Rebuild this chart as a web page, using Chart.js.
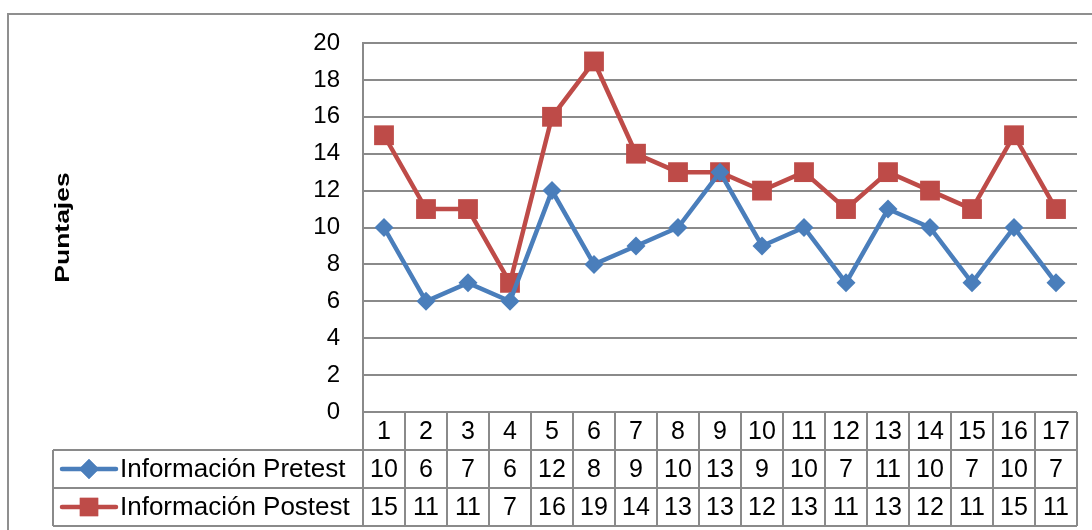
<!DOCTYPE html>
<html>
<head>
<meta charset="utf-8">
<script src="https://cdn.jsdelivr.net/npm/chart.js@4"></script>
<style>
body{margin:0;background:#fff;}
#wrap{width:1092px;height:530px;}
</style>
</head>
<body>
<div id="wrap"><canvas id="chart" width="1092" height="530"></canvas></div>
<script>
const categories=["1","2","3","4","5","6","7","8","9","10","11","12","13","14","15","16","17"];
const pretest=[10,6,7,6,12,8,9,10,13,9,10,7,11,10,7,10,7];
const postest=[15,11,11,7,16,19,14,13,13,12,13,11,13,12,11,15,11];
const seriesNames=["Información Pretest","Información Postest"];
const yTicks=[0,2,4,6,8,10,12,14,16,18,20];
const yTitle="Puntajes";

const BLUE='#4A7EBB',RED='#BE4B48',GRID='#8a8a8a';
const FONT='"Liberation Sans", Arial, sans-serif';

// data table drawn under the plot, columns follow the x scale
const tablePlugin={
    id:'dataTable',
    beforeDraw(chart){
        const ctx=chart.ctx;
        ctx.save();
        ctx.strokeStyle='#8f8f8f';ctx.lineWidth=2;
        ctx.strokeRect(8,14,1100,540);
        ctx.restore();
    },
    afterDraw(chart){
        const ctx=chart.ctx,x=chart.scales.x,area=chart.chartArea;
        const colW=x.getPixelForValue(1)-x.getPixelForValue(0);
        const rowH=38;
        const top=area.bottom,legLeft=53;
        const rows=[top,top+rowH,top+2*rowH,top+3*rowH];
        ctx.save();
        ctx.strokeStyle=GRID;ctx.lineWidth=2;
        ctx.beginPath();
        ctx.moveTo(area.left,rows[0]);ctx.lineTo(area.right,rows[0]);
        for(let r=1;r<4;r++){ctx.moveTo(legLeft,rows[r]);ctx.lineTo(area.right,rows[r]);}
        for(let i=0;i<=categories.length;i++){
            const px=x.getPixelForValue(0)-colW/2+i*colW;
            ctx.moveTo(px,rows[0]);ctx.lineTo(px,rows[3]);
        }
        ctx.moveTo(legLeft,rows[1]);ctx.lineTo(legLeft,rows[3]);
        ctx.stroke();

        ctx.fillStyle='#000';ctx.font='25px '+FONT;
        ctx.textAlign='center';ctx.textBaseline='middle';
        [categories,pretest,postest].forEach((list,r)=>{
            list.forEach((v,i)=>{
                ctx.fillText(String(v),x.getPixelForValue(i),rows[r]+rowH/2+1);
            });
        });
        // legend keys
        const styles=[{c:BLUE,s:'rectRot',r:10},{c:RED,s:'rect',r:13}];
        styles.forEach((st,k)=>{
            const cy=rows[k+1]+rowH/2;
            ctx.strokeStyle=st.c;ctx.lineWidth=4.5;ctx.lineCap='round';
            ctx.beginPath();ctx.moveTo(62,cy);ctx.lineTo(116,cy);ctx.stroke();
            ctx.fillStyle=st.c;
            Chart.helpers.drawPoint(ctx,{pointStyle:st.s,radius:st.r,rotation:0,borderWidth:0},89,cy);
            ctx.fill();
            ctx.fillStyle='#000';ctx.textAlign='left';
            ctx.font='26px '+FONT;
            ctx.fillText(seriesNames[k],120,cy+1);
        });
        // y axis title, stretched along its length like the original
        ctx.font='bold 21px '+FONT;
        ctx.translate(63,(area.top+area.bottom)/2);
        ctx.rotate(-Math.PI/2);
        ctx.scale(1.26,1);
        ctx.textAlign='center';
        ctx.fillText(yTitle,0,0);
        ctx.restore();
    }
};

new Chart(document.getElementById('chart'),{
    type:'line',
    data:{
        labels:categories,
        datasets:[
            {label:seriesNames[0],data:pretest,borderColor:BLUE,backgroundColor:BLUE,borderWidth:4.5,
             pointStyle:'rectRot',pointRadius:9.5,pointBorderWidth:0,tension:0},
            {label:seriesNames[1],data:postest,borderColor:RED,backgroundColor:RED,borderWidth:4.5,
             pointStyle:'rect',pointRadius:14,pointBorderWidth:0,tension:0}
        ]
    },
    options:{
        responsive:false,animation:false,
        layout:{padding:{left:40,top:43,right:15,bottom:0}},
        plugins:{legend:{display:false},tooltip:{enabled:false}},
        scales:{
            x:{
                offset:true,
                grid:{display:false},
                border:{display:false},
                ticks:{display:false},
                afterFit(s){s.height=118;}
            },
            y:{
                min:0,max:20,
                afterBuildTicks(s){s.ticks=yTicks.map(v=>({value:v}));},
                grid:{color:GRID,lineWidth:2,drawTicks:false},
                border:{color:GRID,width:2},
                ticks:{color:'#000',font:{family:FONT,size:24},padding:23},
                afterFit(s){s.width=323;}
            }
        }
    },
    plugins:[tablePlugin]
});
</script>
</body>
</html>
